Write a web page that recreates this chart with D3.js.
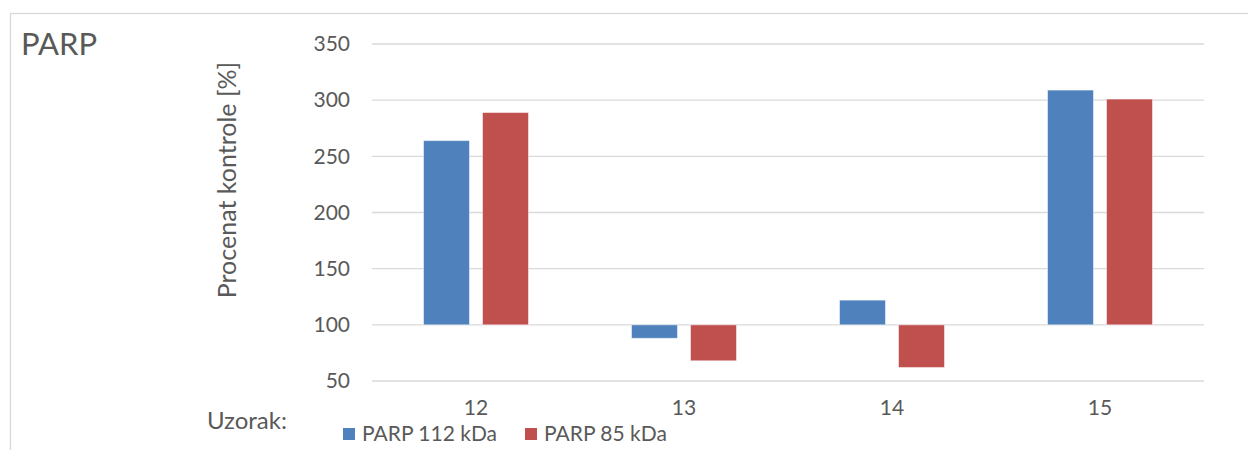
<!DOCTYPE html>
<html>
<head>
<meta charset="utf-8">
<script src="https://cdn.jsdelivr.net/npm/d3@7"></script>
<style>
  body { margin: 0; background: #fff; }
  svg { display: block; font-family: Lato, "Open Sans", sans-serif; }
</style>
</head>
<body>
<div id="chart"></div>
<script>
// data
var categories = ["12", "13", "14", "15"];
var seriesNames = ["PARP 112 kDa", "PARP 85 kDa"];
var parp112 = [264, 88, 122, 309];
var parp85 = [289, 68, 62, 301];
var yTicks = [50, 100, 150, 200, 250, 300, 350];
var colors = ["#4F81BD", "#C0504D"];

var w = 1248, h = 450;
var baseline = 100;

var svg = d3.select("#chart").append("svg")
  .attr("width", w).attr("height", h);

// chart frame (cut off at right and bottom like the screenshot)
svg.append("rect")
  .attr("x", 10.5).attr("y", 13.5)
  .attr("width", w + 20).attr("height", h + 20)
  .attr("fill", "#fff")
  .attr("stroke", "#d9d9d9").attr("stroke-width", 1.3);

var x0 = d3.scaleBand().domain(categories).range([372, 1204])
  .paddingInner(1 - 105 / 208).paddingOuter((1 - 105 / 208) / 2);
var x1 = d3.scaleBand().domain(seriesNames).range([0, x0.bandwidth()])
  .paddingInner(13 / 59);
var y = d3.scaleLinear().domain([50, 350]).range([381, 44]);

// gridlines
svg.append("g").selectAll("line").data(yTicks).enter().append("line")
  .attr("x1", 372).attr("x2", 1204)
  .attr("y1", function(d) { return y(d); })
  .attr("y2", function(d) { return y(d); })
  .attr("stroke", "#d9d9d9").attr("stroke-width", 1.3);

// y axis labels
var yAxis = d3.axisLeft(y).tickValues(yTicks).tickSize(0).tickPadding(22);
var gy = svg.append("g").attr("transform", "translate(372,0)").call(yAxis);
gy.select(".domain").remove();
gy.selectAll("text")
  .attr("fill", "#595959")
  .style("font-size", "21px")
  .style("font-family", "Lato, sans-serif");

// bars
var rows = categories.map(function(c, i) {
  return { cat: c, vals: [parp112[i], parp85[i]] };
});

var groups = svg.append("g").selectAll("g").data(rows).enter().append("g")
  .attr("transform", function(d) { return "translate(" + x0(d.cat) + ",0)"; });

groups.selectAll("rect")
  .data(function(d) { return d.vals.map(function(v, j) { return { s: seriesNames[j], v: v, j: j }; }); })
  .enter().append("rect")
  .attr("x", function(d) { return x1(d.s); })
  .attr("width", x1.bandwidth())
  .attr("y", function(d) { return Math.min(y(d.v), y(baseline)); })
  .attr("height", function(d) { return Math.abs(y(d.v) - y(baseline)); })
  .attr("fill", function(d) { return colors[d.j]; })
  .attr("stroke", "#fff").attr("stroke-opacity", 0.5).attr("stroke-width", 1);

// category labels
var xAxis = d3.axisBottom(x0).tickSize(0).tickPadding(0);
var gx = svg.append("g").attr("transform", "translate(0,400)").call(xAxis);
gx.select(".domain").remove();
gx.selectAll("text")
  .attr("fill", "#595959")
  .style("font-size", "21px")
  .style("font-family", "Lato, sans-serif");

// title
svg.append("text")
  .attr("x", 21).attr("y", 55)
  .attr("fill", "#595959")
  .style("font-size", "31px")
  .text("PARP");

// y axis title
svg.append("text")
  .attr("transform", "translate(236,180) rotate(-90)")
  .attr("text-anchor", "middle")
  .attr("fill", "#595959")
  .style("font-size", "25px")
  .text("Procenat kontrole [%]");

svg.append("text")
  .attr("x", 287).attr("y", 429)
  .attr("text-anchor", "end")
  .attr("fill", "#595959")
  .style("font-size", "24px")
  .text("Uzorak:");

// legend
var legendX = [343, 525];
var legend = svg.append("g").selectAll("g").data(seriesNames).enter().append("g")
  .attr("transform", function(d, i) { return "translate(" + legendX[i] + ",428)"; });
legend.append("rect")
  .attr("width", 12).attr("height", 12)
  .attr("fill", function(d, i) { return colors[i]; });
legend.append("text")
  .attr("x", 19).attr("y", 13)
  .attr("fill", "#595959")
  .style("font-size", "21px")
  .text(function(d) { return d; });
</script>
</body>
</html>
